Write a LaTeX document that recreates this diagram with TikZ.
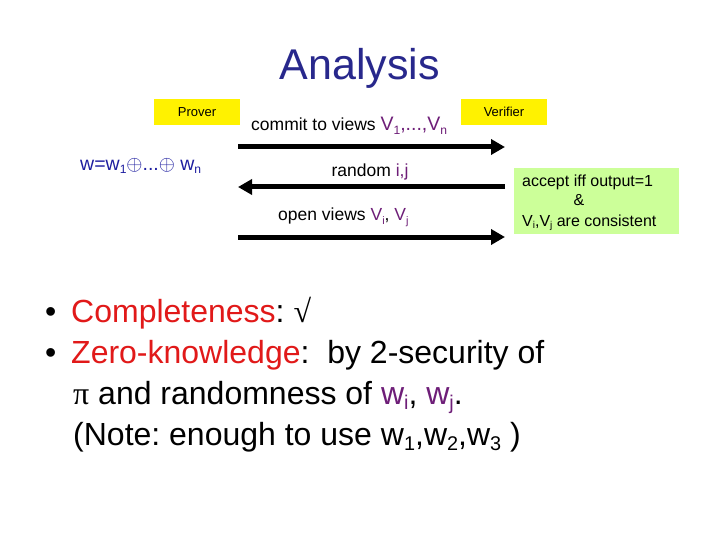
\documentclass[tikz,border=0pt]{standalone}
\usepackage{fontspec}
\setmainfont{Liberation Sans}
\newfontfamily\serifpi{Liberation Serif}
\usetikzlibrary{arrows.meta}
\frenchspacing
\definecolor{titleblue}{RGB}{40,40,140}
\definecolor{wblue}{RGB}{30,30,160}
\definecolor{vpurple}{RGB}{110,30,120}
\definecolor{bred}{RGB}{225,25,25}
\definecolor{lgreen}{RGB}{204,255,153}
\newcommand\lowsub[1]{\raisebox{-0.35ex}{\scalebox{0.62}{#1}}}
\tikzset{
  rolebox/.style={fill=yellow, minimum width=86pt, minimum height=26pt, inner sep=0pt, font=\fontsize{13}{15}\selectfont},
  msg/.style={line width=5pt, -{Triangle[length=14pt,width=15pt]}},
  lbl/.style={inner sep=0pt, font=\fontsize{17.5}{20}\selectfont},
  acc/.style={inner sep=0pt, font=\fontsize{16}{18}\selectfont},
  big/.style={inner sep=0pt, anchor=base west, font=\fontsize{32}{38}\selectfont},
}
\begin{document}
\begin{tikzpicture}[x=1pt,y=-1pt]
\useasboundingbox[fill=white] (0,0) rectangle (720,540);
\node[text=titleblue, font=\fontsize{43}{50}\selectfont] (title) at (360,68) {Analysis};
\node[rolebox] (prover) at (197,112) {Prover};
\node[rolebox] (verifier) at (504,112) {Verifier};
\node[text=wblue, inner sep=0pt, anchor=west, font=\fontsize{19.5}{22}\selectfont] (w) at (80,166) {w=w\lowsub{1}$\oplus$...$\oplus$ w\lowsub{n}};
% messages
\coordinate (p1) at (238,147); \coordinate (v1) at (505,147);
\coordinate (p2) at (238,187); \coordinate (v2) at (505,187);
\coordinate (p3) at (238,237); \coordinate (v3) at (505,237);
\draw[msg] (p1) -- (v1);
\draw[msg] (v2) -- (p2);
\draw[msg] (p3) -- (v3);
\node[lbl, anchor=base west] (m1) at (251,131) {commit to views {\color{vpurple}\fontsize{19.5}{22}\selectfont V\lowsub{1},...,V\lowsub{n}}};
\node[lbl, anchor=base] (m2) at (370,177) {random {\color{vpurple}i,j}};
\node[lbl, anchor=base west] (m3) at (278,221) {open views {\color{vpurple}V\lowsub{i}}, {\color{vpurple}V\lowsub{j}}};
% decision box
\fill[lgreen] (514,168) rectangle (679,234);
\node[acc, anchor=base west] (acc1) at (522,187) {accept iff output=1};
\node[acc, anchor=base] (acc2) at (579,206) {\&};
\node[acc, anchor=base west] (acc3) at (522,226) {V\lowsub{i},V\lowsub{j} are consistent};
% bullets
\node[big] (b1) at (45,322) {\textbullet};
\node[big] (t1) at (71,322) {{\color{bred}Completeness}: {\serifpi √}};
\node[big] (b2) at (45,363) {\textbullet};
\node[big] (t2) at (71,363) {{\color{bred}Zero-knowledge}:\ \ by 2-security of};
\node[big] (t3) at (73,404) {{\serifpi π} and randomness of {\color{vpurple}w\lowsub{i}}, {\color{vpurple}w\lowsub{j}}.};
\node[big] (t4) at (73,445) {(Note: enough to use w\lowsub{1},w\lowsub{2},w\lowsub{3} )};
\end{tikzpicture}
\end{document}
